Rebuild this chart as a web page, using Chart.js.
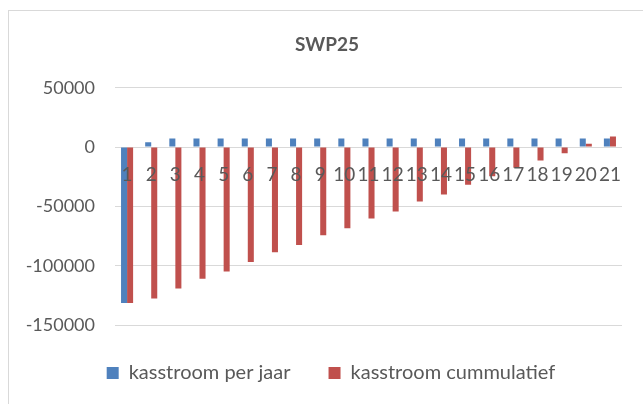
<!DOCTYPE html>
<html>
<head>
<meta charset="utf-8">
<script src="https://cdn.jsdelivr.net/npm/chart.js@4"></script>
<style>
  html, body { margin: 0; padding: 0; background: #fff; overflow: hidden; width: 643px; height: 404px; }
  #frame { position: absolute; left: 8px; top: 10px; width: 700px; height: 500px; border: 1px solid #d9d9d9; box-sizing: border-box; }
  #c { position: absolute; left: 0; top: 0; }
</style>
</head>
<body>
<div id="frame"></div>
<canvas id="c" width="643" height="404"></canvas>
<script>
const categories = ['1','2','3','4','5','6','7','8','9','10','11','12','13','14','15','16','17','18','19','20','21'];
const perYear = [-131400, 4000, 7300, 7300, 7300, 7300, 7300, 7300, 7300, 7300, 7300, 7300, 7300, 7300, 7300, 7300, 7300, 7300, 7300, 7300, 7300];
const cumulative = [-131400, -127700, -119300, -111100, -104900, -96800, -88600, -82500, -74300, -68400, -60200, -54300, -45800, -39900, -31800, -24500, -17500, -11200, -5100, 2900, 9000];
const seriesNames = ['kasstroom per jaar', 'kasstroom cummulatief'];
const yTicks = [50000, 0, -50000, -100000, -150000];
const titleText = 'SWP25';

const textColor = '#595959';
const gridColor = '#d9d9d9';

const categoryLabels = {
  id: 'categoryLabels',
  afterDatasetsDraw(chart) {
    const x = chart.scales.x, y = chart.scales.y;
    const ctx = chart.ctx;
    const y0 = y.getPixelForValue(0);
    ctx.save();
    ctx.font = '19px Lato';
    ctx.fillStyle = textColor;
    ctx.textAlign = 'center';
    ctx.textBaseline = 'middle';
    categories.forEach((c, i) => {
      ctx.fillText(c, x.getPixelForValue(i), y0 + 28);
    });
    ctx.restore();
  }
};

const boxShift = {
  id: 'boxShift',
  afterLayout(chart) {
    if (chart.legend) { chart.legend.left += 20; chart.legend.right += 20; }
    if (chart.titleBlock) { chart.titleBlock.left += 16; chart.titleBlock.right += 16; }
  }
};

new Chart(document.getElementById('c'), {
  type: 'bar',
  data: {
    labels: categories,
    datasets: [
      { label: seriesNames[0], data: perYear, backgroundColor: '#4f81bd', borderWidth: 0 },
      { label: seriesNames[1], data: cumulative, backgroundColor: '#c0504d', borderWidth: 0 }
    ]
  },
  options: {
    responsive: false,
    animation: false,
    devicePixelRatio: 1,
    categoryPercentage: 0.5,
    barPercentage: 1.0,
    layout: { padding: { left: 0, right: 21, top: 0, bottom: 11 } },
    plugins: {
      title: {
        display: true,
        text: titleText,
        color: textColor,
        font: { family: 'Lato', size: 19, weight: 'bold', lineHeight: 1.2 },
        padding: { top: 33, bottom: 32 }
      },
      legend: {
        position: 'bottom',
        labels: {
          boxWidth: 12,
          boxHeight: 12,
          padding: 38,
          color: textColor,
          font: { family: 'Lato', size: 20 }
        }
      },
      tooltip: { enabled: false }
    },
    scales: {
      x: {
        display: false
      },
      y: {
        min: -150000,
        max: 50000,
        afterFit(scale) { scale.width = 115; },
        afterBuildTicks(scale) { scale.ticks = yTicks.map(v => ({ value: v })); },
        ticks: {
          color: textColor,
          padding: 20,
          font: { family: 'Lato', size: 18 },
          callback: v => String(v)
        },
        grid: { color: gridColor, lineWidth: 1, drawTicks: false },
        border: { display: false }
      }
    }
  },
  plugins: [categoryLabels, boxShift]
});
</script>
</body>
</html>
